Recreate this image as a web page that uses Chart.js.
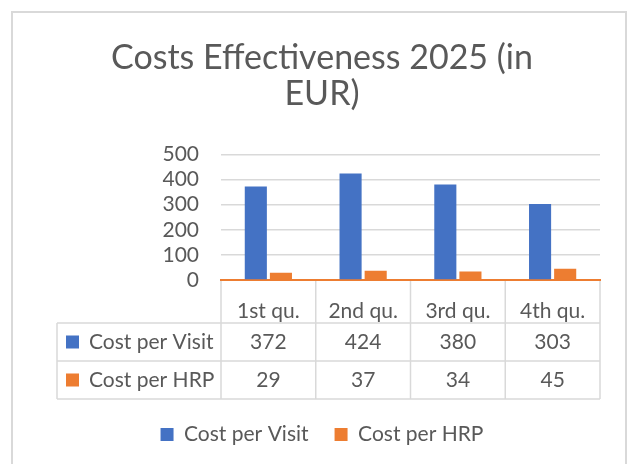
<!DOCTYPE html>
<html>
<head>
<meta charset="utf-8">
<script src="https://cdn.jsdelivr.net/npm/chart.js@4.4.1/dist/chart.umd.min.js"></script>
<style>
  body { margin: 0; background: #fff; }
  #wrap { position: relative; width: 630px; height: 464px; overflow: hidden; }
  #frame { position: absolute; left: 11px; top: 11px; width: 612px; height: 470px; border: 2px solid #d9d9d9; pointer-events: none; }
</style>
</head>
<body>
<div id="wrap">
  <canvas id="chart"></canvas>
  <div id="frame"></div>
</div>
<script>
const categories = ['1st qu.', '2nd qu.', '3rd qu.', '4th qu.'];
const seriesNames = ['Cost per Visit', 'Cost per HRP'];
const costPerVisit = [372, 424, 380, 303];
const costPerHRP = [29, 37, 34, 45];
const yTicks = [0, 100, 200, 300, 400, 500];

const BLUE = '#4472C4';
const ORANGE = '#ED7D31';
const TEXT = '#595959';
const LINE = '#d9d9d9';
const FONT = 'Lato, "Open Sans", sans-serif';
const FS = 21;

// draws the data table under the x axis, columns taken from the x scale
const tablePlugin = {
  id: 'dataTable',
  afterDraw(chart) {
    const { ctx, chartArea, scales: { x } } = chart;
    const half = (x.getPixelForValue(1) - x.getPixelForValue(0)) / 2;
    const edges = categories.map((c, i) => x.getPixelForValue(i) - half);
    edges.push(x.getPixelForValue(categories.length - 1) + half);

    const top = chartArea.bottom;
    const rowH = 38;
    const row1 = top + 43;
    const bottom = row1 + rowH * 2;
    const left = 57;

    ctx.save();
    ctx.strokeStyle = LINE;
    ctx.lineWidth = 1.5;
    ctx.beginPath();
    edges.forEach(ex => { ctx.moveTo(ex, top + 1); ctx.lineTo(ex, bottom); });
    ctx.moveTo(left, row1); ctx.lineTo(left, bottom);
    [row1, row1 + rowH, bottom].forEach(yy => { ctx.moveTo(left, yy); ctx.lineTo(edges[edges.length - 1], yy); });
    ctx.stroke();

    const rows = [costPerVisit, costPerHRP];
    const colors = [BLUE, ORANGE];
    ctx.font = FS + 'px ' + FONT;
    ctx.textBaseline = 'middle';
    rows.forEach((vals, r) => {
      const cy = row1 + rowH * r + rowH / 2;
      ctx.fillStyle = colors[r];
      ctx.fillRect(left + 9, cy - 6.5, 13, 13);
      ctx.fillStyle = TEXT;
      ctx.textAlign = 'left';
      ctx.fillText(seriesNames[r], left + 32, cy);
      ctx.textAlign = 'center';
      vals.forEach((v, i) => ctx.fillText(String(v), x.getPixelForValue(i), cy));
    });
    ctx.restore();
  }
};

new Chart(document.getElementById('chart'), {
  type: 'bar',
  data: {
    labels: categories,
    datasets: [
      { label: seriesNames[0], data: costPerVisit, backgroundColor: BLUE, categoryPercentage: 0.53, barPercentage: 0.88 },
      { label: seriesNames[1], data: costPerHRP, backgroundColor: ORANGE, categoryPercentage: 0.53, barPercentage: 0.88 }
    ]
  },
  options: {
    responsive: true,
    maintainAspectRatio: false,
    animation: false,
    layout: { padding: { left: 44, right: 30, top: 0, bottom: 9 } },
    plugins: {
      tooltip: { enabled: false },
      title: {
        display: true,
        text: ['Costs Effectiveness 2025 (in', 'EUR)'],
        color: TEXT,
        font: { family: FONT, size: 34, weight: 'normal', lineHeight: 1.05 },
        padding: { top: 40, bottom: 43 }
      },
      legend: {
        position: 'bottom',
        labels: {
          color: TEXT,
          boxWidth: 13,
          boxHeight: 13,
          padding: 26,
          font: { family: FONT, size: FS }
        }
      }
    },
    scales: {
      y: {
        min: yTicks[0],
        max: yTicks[yTicks.length - 1],
        afterBuildTicks: s => { s.ticks = yTicks.map(v => ({ value: v })); },
        afterFit: s => { s.width = 177; },
        border: { display: false },
        grid: { color: LINE, lineWidth: 1.5, drawTicks: false },
        ticks: { color: TEXT, padding: 22, autoSkip: false, font: { family: FONT, size: FS } }
      },
      x: {
        afterFit: s => { s.height = 118; },
        border: { color: ORANGE, width: 2 },
        grid: { display: false },
        ticks: { color: TEXT, padding: 11, font: { family: FONT, size: FS } }
      }
    }
  },
  plugins: [tablePlugin]
});
</script>
</body>
</html>
